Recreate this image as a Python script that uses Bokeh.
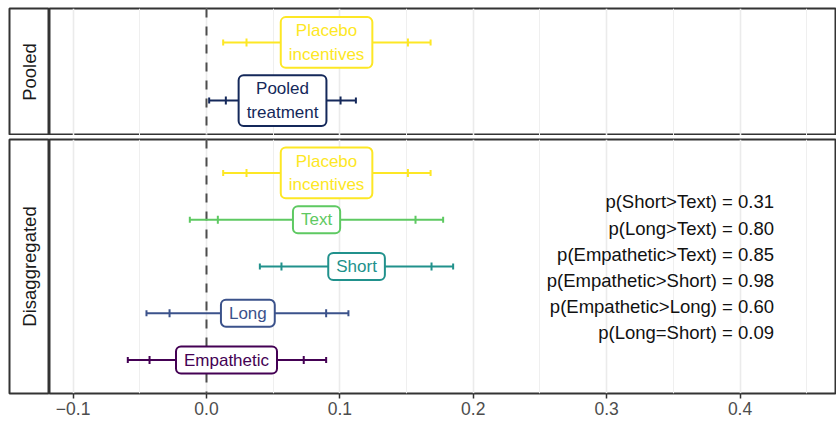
import numpy as np
from bokeh.plotting import figure
from bokeh.layouts import column, row
from bokeh.models import Range1d, FixedTicker, CustomJSTickFormatter, ColumnDataSource, Span
from bokeh.core.properties import value
from bokeh.embed import file_html
from bokeh.resources import INLINE

# ---------------- data ----------------
pooled_labels = ["Pooled\ntreatment", "Placebo\nincentives"]
pooled_lo95 = [0.002, 0.0125]
pooled_lo = [0.0145, 0.030]
pooled_est = [0.057, 0.090]
pooled_hi = [0.1005, 0.151]
pooled_hi95 = [0.112, 0.168]
pooled_colors = ["#14285A", "#FDE725"]

dis_labels = ["Empathetic", "Long", "Short", "Text", "Placebo\nincentives"]
dis_lo95 = [-0.059, -0.045, 0.040, -0.0125, 0.0125]
dis_lo = [-0.0427, -0.0277, 0.0562, 0.0085, 0.030]
dis_est = [0.015, 0.031, 0.1125, 0.0825, 0.090]
dis_hi = [0.0729, 0.0897, 0.1687, 0.1567, 0.151]
dis_hi95 = [0.0897, 0.1064, 0.1849, 0.1774, 0.168]
dis_colors = ["#440154", "#3B528B", "#21918C", "#5EC962", "#FDE725"]

annotations = [
    "p(Short>Text) = 0.31",
    "p(Long>Text) = 0.80",
    "p(Empathetic>Text) = 0.85",
    "p(Empathetic>Short) = 0.98",
    "p(Empathetic>Long) = 0.60",
    "p(Long=Short) = 0.09",
]
strip_labels = ["Pooled", "Disaggregated"]
x_ticks = [-0.1, 0.0, 0.1, 0.2, 0.3, 0.4]
x_minor = [-0.05, 0.05, 0.15, 0.25, 0.35, 0.45]

FONT = value("Liberation Sans")
BORDER = "#333333"
PANEL_W = 787
STRIP_W = 49


def strip(label, height, top, bottom):
    s = figure(width=STRIP_W, height=height, x_range=Range1d(0, 1), y_range=Range1d(0, 1),
               x_axis_location=None, y_axis_location=None, toolbar_location=None,
               output_backend="svg", min_border_left=9, min_border_right=0,
               min_border_top=top, min_border_bottom=bottom,
               background_fill_color="white", border_fill_color="white")
    s.grid.visible = False
    s.outline_line_color = BORDER
    s.outline_line_width = 2
    s.text(x=[0.5], y=[0.5], text=[label], angle=np.pi / 2, text_align="center",
           text_baseline="middle", text_font=FONT, text_font_size="18.5px",
           text_color="#1A1A1A")
    return s


def panel(labels, lo95, lo, est, hi, hi95, colors, yr, height, top, bottom, show_axis):
    p = figure(width=PANEL_W, height=height, x_range=Range1d(-0.1177, 0.4723), y_range=yr,
               x_axis_location="below" if show_axis else None, y_axis_location=None,
               toolbar_location=None, output_backend="svg",
               min_border_left=0, min_border_right=0, min_border_top=top,
               min_border_bottom=bottom,
               background_fill_color="white", border_fill_color="white")
    p.outline_line_color = BORDER
    p.outline_line_width = 2
    p.ygrid.visible = False
    p.xgrid.ticker = FixedTicker(ticks=x_ticks, minor_ticks=x_minor)
    p.xgrid.grid_line_color = "#EBEBEB"
    p.xgrid.grid_line_width = 1.6
    p.xgrid.minor_grid_line_color = "#EFEFEF"
    p.xgrid.minor_grid_line_width = 1

    if show_axis:
        ax = p.xaxis[0]
        ax.ticker = FixedTicker(ticks=x_ticks)
        ax.formatter = CustomJSTickFormatter(code="return tick.toFixed(1).replace('-', '\u2212');")
        ax.axis_line_color = None
        ax.major_tick_line_color = BORDER
        ax.major_tick_line_width = 1.5
        ax.major_tick_out = 5
        ax.major_tick_in = 0
        ax.minor_tick_line_color = None
        ax.major_label_text_font = "Liberation Sans"
        ax.major_label_text_font_size = "17.5px"
        ax.major_label_text_color = "#4D4D4D"
        ax.major_label_standoff = 3

    p.add_layout(Span(location=0, dimension="height", line_color="#4D4D4D",
                      line_width=2, line_dash="9 9", level="underlay"))

    ys = list(range(1, len(labels) + 1))
    src = ColumnDataSource(dict(y=ys, lo95=lo95, lo=lo, est=est, hi=hi, hi95=hi95,
                                label=labels, color=colors))
    p.segment(x0="lo95", y0="y", x1="hi95", y1="y", line_color="color", line_width=2, source=src)
    for col, size in (("lo95", 6), ("hi95", 6), ("lo", 8), ("hi", 8)):
        p.scatter(x=col, y="y", marker="dash", angle=np.pi / 2, size=size,
                  line_color="color", line_width=2, source=src)
    p.text(x="est", y="y", text="label", text_color="color", text_align="center",
           text_baseline="middle", text_font=FONT, text_font_size="17px",
           text_line_height=1.25, background_fill_color="white",
           border_line_color="color", border_line_width=2, border_radius=5,
           padding=[8, 4], source=src)
    return p


p_top = panel(pooled_labels, pooled_lo95, pooled_lo, pooled_est, pooled_hi, pooled_hi95,
              pooled_colors, Range1d(0.397, 2.586), 135, 8, 0, False)
p_bot = panel(dis_labels, dis_lo95, dis_lo, dis_est, dis_hi, dis_hi95,
              dis_colors, Range1d(0.285, 5.715), 289, 4, 31, True)

ann_y = [4.38 - 0.557 * i for i in range(len(annotations))]
p_bot.text(x=[0.4255] * len(annotations), y=ann_y, text=annotations, text_align="right",
           text_baseline="middle", text_font=FONT, text_font_size="18.5px",
           text_color="#111111")

s_top = strip(strip_labels[0], 135, 8, 0)
s_bot = strip(strip_labels[1], 289, 4, 31)

layout = column(row(s_top, p_top), row(s_bot, p_bot))
open("out.html", "w").write(file_html(layout, INLINE))
